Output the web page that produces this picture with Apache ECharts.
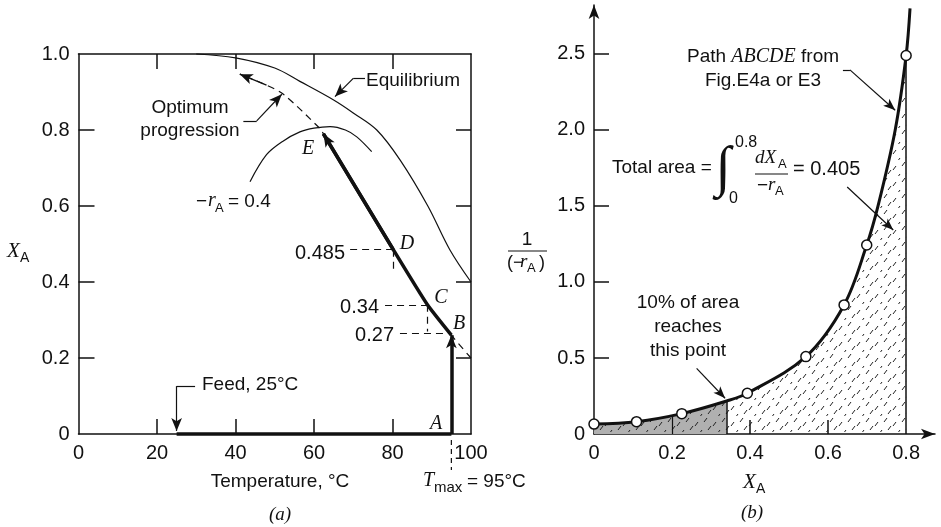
<!DOCTYPE html>
<html><head><meta charset="utf-8">
<script src="https://cdn.jsdelivr.net/npm/echarts@6/dist/echarts.min.js"></script>
<style>html,body{margin:0;padding:0;background:#fff}#c{width:941px;height:527px}</style>
</head><body><div id="c"></div>
<script>
// ---------- Panel (a): conversion vs temperature ----------
const tempTicks = [0, 20, 40, 60, 80, 100];
const convTicks = [0, 0.2, 0.4, 0.6, 0.8, 1.0];
const eqT = [30, 40, 50, 56.4, 65, 70, 76, 82, 89, 94.6, 100];
const eqX = [1.0, 0.99, 0.963, 0.928, 0.879, 0.845, 0.80, 0.72, 0.60, 0.485, 0.40];
const optT = [100, 95, 88.9, 80.2, 62.4, 61.5, 52.2, 47.9, 41.1];
const optX = [0.20, 0.26, 0.34, 0.485, 0.79, 0.804, 0.894, 0.918, 0.947];
const rateT = [43.7, 47.9, 52, 56.4, 60, 64.1, 68, 70.9, 74.7];
const rateX = [0.664, 0.735, 0.77, 0.795, 0.805, 0.809, 0.80, 0.782, 0.743];
const feedT = [25, 95];
const feedX = [0, 0];
const pathT = [95, 88.9, 80.2, 62.4];
const pathX = [0.26, 0.34, 0.485, 0.79];
const tMax = 95;

// ---------- Panel (b): 1/(-rA) vs XA ----------
const xaTicks = [0, 0.2, 0.4, 0.6, 0.8];
const invTicks = [0, 0.5, 1.0, 1.5, 2.0, 2.5];
const ptsX = [0, 0.109, 0.225, 0.393, 0.543, 0.641, 0.699, 0.8];
const ptsY = [0.065, 0.081, 0.134, 0.268, 0.509, 0.849, 1.243, 2.49];
const curveX = [0, 0.109, 0.225, 0.34, 0.393, 0.543, 0.641, 0.699, 0.728, 0.772, 0.8, 0.81];
const curveY = [0.065, 0.081, 0.134, 0.217, 0.268, 0.509, 0.849, 1.243, 1.5, 2.0, 2.49, 2.8];
const split10X = 0.34;   // 10% of area boundary
const split02Y = 0.114;  // curve height at XA = 0.2

const zip = (a, b) => a.map((v, i) => [v, b[i]]);

const INK = '#111';
const SANS = '"Liberation Sans", Arial, sans-serif';
const SERIF = '"Liberation Serif", "Times New Roman", serif';

function pattern(bg) {
  const c = document.createElement('canvas');
  c.width = 18; c.height = 16;
  const g = c.getContext('2d');
  if (bg) { g.fillStyle = bg; g.fillRect(0, 0, 18, 16); }
  g.strokeStyle = '#222'; g.lineWidth = 1;
  const dashAt = (x, y) => { g.beginPath(); g.moveTo(x, y + 4); g.lineTo(x + 3, y); g.stroke(); };
  dashAt(2, 2); dashAt(11, 6); dashAt(6, 10); dashAt(15, 14);
  dashAt(-3, 14);
  return { image: c, repeat: 'repeat' };
}

function seg(p, q, arrow, style) {
  return [{ coord: p, symbol: 'none', lineStyle: style },
          { coord: q, symbol: arrow ? 'arrow' : 'none' }];
}
const thin = { color: INK, width: 1.2, type: 'solid' };
const dash = { color: INK, width: 1.2, type: [7, 5] };
const thick = { color: INK, width: 3.5, type: 'solid' };
const edge = { color: INK, width: 1.5, type: 'solid' };

function markSeries(xi, yi, items, symSize) {
  return {
    type: 'line', xAxisIndex: xi, yAxisIndex: yi, data: [], silent: true, clip: false,
    markLine: { silent: true, animation: false, symbolSize: symSize || [7, 12],
      lineStyle: { type: 'solid', color: INK },
      label: { show: false }, emphasis: { disabled: true }, data: items }
  };
}

function txt(text, x, y, font, align) {
  const a = align || 'left';
  return { type: 'text', x: x, y: y, silent: true, z: 100,
    style: { text: text, font: font, fill: INK, textAlign: a, align: a,
             textVerticalAlign: 'middle', verticalAlign: 'middle' } };
}
const f = (s) => s + 'px ' + SANS;
const fi = (s) => 'italic ' + s + 'px ' + SERIF;

const axisLineStyle = { color: INK, width: 1.5 };
const labelBase = { color: INK, fontFamily: SANS, fontSize: 20 };

const option = {
  animation: false,
  backgroundColor: '#fff',
  grid: [
    { left: 78.5, top: 54, width: 392.5, height: 380 },
    { left: 594, top: 5, width: 341, height: 429 }
  ],
  xAxis: [
    { gridIndex: 0, type: 'value', min: 0, max: 100, interval: 20,
      axisLine: { onZero: false, lineStyle: axisLineStyle },
      axisTick: { inside: true, length: 15, lineStyle: axisLineStyle, customValues: tempTicks.slice(1, -1) },
      axisLabel: Object.assign({ margin: 9, customValues: tempTicks, formatter: v => String(v) }, labelBase),
      splitLine: { show: false } },
    { gridIndex: 0, type: 'value', position: 'top', min: 0, max: 100, interval: 20,
      axisLine: { onZero: false, lineStyle: axisLineStyle },
      axisTick: { inside: true, length: 15, lineStyle: axisLineStyle, customValues: tempTicks.slice(1, -1) },
      axisLabel: { show: false }, splitLine: { show: false } },
    { gridIndex: 1, type: 'value', min: 0, max: 0.874, interval: 0.2,
      axisLine: { onZero: false, lineStyle: axisLineStyle, symbol: ['none', 'arrow'], symbolSize: [8, 14] },
      axisTick: { inside: true, length: 14, lineStyle: axisLineStyle, customValues: [0.4, 0.6] },
      axisLabel: Object.assign({ margin: 9, customValues: xaTicks, formatter: v => v === 0 ? '0' : v.toFixed(1) }, labelBase),
      splitLine: { show: false } }
  ],
  yAxis: [
    { gridIndex: 0, type: 'value', min: 0, max: 1, interval: 0.2,
      axisLine: { onZero: false, lineStyle: axisLineStyle },
      axisTick: { inside: true, length: 16, lineStyle: axisLineStyle, customValues: convTicks.slice(1, -1) },
      axisLabel: Object.assign({ margin: 9, customValues: convTicks, formatter: v => v === 0 ? '0' : v.toFixed(1) }, labelBase),
      splitLine: { show: false } },
    { gridIndex: 0, type: 'value', position: 'right', min: 0, max: 1, interval: 0.2,
      axisLine: { onZero: false, lineStyle: axisLineStyle },
      axisTick: { inside: true, length: 15, lineStyle: axisLineStyle, customValues: convTicks.slice(1, -1) },
      axisLabel: { show: false }, splitLine: { show: false } },
    { gridIndex: 1, type: 'value', min: 0, max: 2.822, interval: 0.5,
      axisLine: { onZero: false, lineStyle: axisLineStyle, symbol: ['none', 'arrow'], symbolSize: [8, 14] },
      axisTick: { inside: true, length: 15, lineStyle: axisLineStyle, customValues: invTicks.slice(1) },
      axisLabel: Object.assign({ margin: 9, customValues: invTicks, formatter: v => v === 0 ? '0' : v.toFixed(1) }, labelBase),
      splitLine: { show: false } }
  ],
  series: [
    // ---- panel (a)
    { type: 'line', xAxisIndex: 0, yAxisIndex: 0, data: zip(eqT, eqX), smooth: 0.35,
      symbol: 'none', clip: false, silent: true, lineStyle: thin },
    { type: 'line', xAxisIndex: 0, yAxisIndex: 0, data: zip(rateT, rateX), smooth: 0.35,
      symbol: 'none', clip: false, silent: true, lineStyle: thin },
    { type: 'line', xAxisIndex: 0, yAxisIndex: 0, data: zip(optT, optX), smooth: 0.3,
      symbol: 'none', clip: false, silent: true, lineStyle: dash },
    { type: 'line', xAxisIndex: 0, yAxisIndex: 0, data: zip(feedT, feedX),
      symbol: 'none', clip: false, silent: true, lineStyle: thick },
    { type: 'line', xAxisIndex: 0, yAxisIndex: 0, data: zip(pathT, pathX), smooth: 0.15,
      symbol: 'none', clip: false, silent: true, lineStyle: thick, z: 5 },
    { type: 'line', xAxisIndex: 0, yAxisIndex: 0, data: [[tMax, -0.016], [tMax, -0.095]],
      symbol: 'none', clip: false, silent: true, lineStyle: { color: INK, width: 1.2, type: [5, 4] } },
    markSeries(0, 0, [
      seg([tMax, 0], [tMax, pathX[0]], true, thick),
      seg([pathT[2], pathX[2]], [pathT[3], pathX[3]], true, thick),
      seg([optT[7], optX[7]], [optT[8], optX[8]], true, thin),
      seg([73.0, 0.936], [70.0, 0.936], false, thin),
      seg([70.0, 0.936], [65.35, 0.888], true, thin),
      seg([42.0, 0.824], [45.4, 0.824], false, thin),
      seg([45.4, 0.824], [51.8, 0.894], true, thin),
      seg([29.7, 0.126], [25, 0.126], false, thin),
      seg([25, 0.126], [25, 0.008], true, thin),
      seg([69.2, 0.485], [80.2, 0.485], false, dash),
      seg([80.2, 0.485], [80.2, 0.43], false, dash),
      seg([78.1, 0.34], [88.9, 0.34], false, dash),
      seg([88.9, 0.34], [88.9, 0.27], false, dash),
      seg([81.9, 0.265], [95, 0.265], false, dash)
    ], [8, 13]),
    // ---- panel (b)
    { type: 'line', xAxisIndex: 2, yAxisIndex: 2, data: zip(curveX.slice(0, 11), curveY.slice(0, 11)),
      smooth: 0.35, symbol: 'none', clip: false, silent: true,
      lineStyle: { width: 0, opacity: 0 }, areaStyle: { color: pattern(null), opacity: 1 } },
    { type: 'line', xAxisIndex: 2, yAxisIndex: 2, data: zip(curveX.slice(0, 4), curveY.slice(0, 4)),
      smooth: 0.35, symbol: 'none', clip: false, silent: true,
      lineStyle: { width: 0, opacity: 0 }, areaStyle: { color: pattern('#b0b0b0'), opacity: 1 } },
    markSeries(2, 2, [
      seg([0.2, 0], [0.2, split02Y], false, thin),
      seg([split10X, 0], [split10X, curveY[3]], false, edge),
      seg([0.8, 0], [0.8, ptsY[7]], false, edge),
      seg([0.638, 2.395], [0.656, 2.395], false, thin),
      seg([0.656, 2.395], [0.772, 2.13], true, thin),
      seg([0.649, 1.625], [0.767, 1.342], true, thin),
      seg([0.263, 0.432], [0.336, 0.235], true, thin)
    ], [7, 12]),
    { type: 'line', xAxisIndex: 2, yAxisIndex: 2, data: zip(curveX, curveY), smooth: 0.35,
      symbol: 'none', clip: false, silent: true, lineStyle: { color: INK, width: 3 }, z: 5 },
    { type: 'scatter', xAxisIndex: 2, yAxisIndex: 2, data: zip(ptsX, ptsY), symbol: 'circle', symbolSize: 10,
      clip: false, silent: true, z: 6,
      itemStyle: { color: '#fff', borderColor: INK, borderWidth: 1.5, opacity: 1 } }
  ],
  graphic: [
    // panel (a) text
    txt('Equilibrium', 366, 81, f(19)),
    txt('Optimum', 190, 108, f(19), 'center'),
    txt('progression', 190, 131, f(19), 'center'),
    txt('E', 308, 149, fi(20), 'center'),
    txt('−', 196, 202, f(19)),
    txt('r', 208, 201, fi(20)),
    txt('A', 215, 208, f(13)),
    txt('= 0.4', 228, 202, f(19)),
    txt('D', 407, 244, fi(20), 'center'),
    txt('C', 441, 298, fi(20), 'center'),
    txt('B', 459, 324, fi(20), 'center'),
    txt('A', 436, 424, fi(20), 'center'),
    txt('0.485', 345, 253, f(20), 'right'),
    txt('0.34', 379, 307, f(20), 'right'),
    txt('0.27', 394, 335, f(20), 'right'),
    txt('Feed, 25°C', 202, 385, f(19)),
    txt('Temperature, °C', 280, 482, f(19), 'center'),
    txt('T', 423, 481, fi(20)),
    txt('max', 434, 488, f(15)),
    txt('= 95°C', 467, 482, f(19)),
    txt('(a)', 280, 515, fi(19), 'center'),
    txt('X', 7, 251, fi(21)),
    txt('A', 20, 258, f(14)),
    // panel (b) text
    txt('1', 527, 240, f(19), 'center'),
    { type: 'line', silent: true, shape: { x1: 508, y1: 251, x2: 547, y2: 251 }, style: { stroke: INK, lineWidth: 1.2 } },
    txt('(−', 507, 263, f(18)),
    txt('r', 520, 262, fi(19)),
    txt('A', 527, 268, f(13)),
    txt(')', 539, 263, f(18)),
    { type: 'text', x: 763, y: 57, silent: true, z: 100,
      style: { text: '{a|Path }{b|ABCDE}{a| from}', textAlign: 'center', align: 'center',
               textVerticalAlign: 'middle', verticalAlign: 'middle',
               rich: { a: { font: f(19), fill: INK, color: INK }, b: { font: fi(20), fill: INK, color: INK } } } },
    txt('Fig.E4a or E3', 763, 81, f(19), 'center'),
    txt('Total area =', 612, 168, f(19)),
    txt('∫', 723, 170, '56px ' + SERIF, 'center'),
    txt('0.8', 735, 143, f(16)),
    txt('0', 729, 199, f(16)),
    txt('dX', 755, 158, fi(19)),
    txt('A', 778, 164, f(13)),
    { type: 'line', silent: true, shape: { x1: 755, y1: 174, x2: 788, y2: 174 }, style: { stroke: INK, lineWidth: 1.2 } },
    txt('−', 757, 186, f(19)),
    txt('r', 768, 185, fi(19)),
    txt('A', 775, 191, f(13)),
    txt('= 0.405', 793, 169, f(20)),
    txt('10% of area', 688, 303, f(19), 'center'),
    txt('reaches', 688, 327, f(19), 'center'),
    txt('this point', 688, 351, f(19), 'center'),
    txt('X', 743, 482, fi(21)),
    txt('A', 756, 489, f(14)),
    txt('(b)', 752, 513, fi(19), 'center')
  ]
};

const chart = echarts.init(document.getElementById('c'), null, { renderer: 'canvas' });
chart.setOption(option);
</script>
</body></html>
